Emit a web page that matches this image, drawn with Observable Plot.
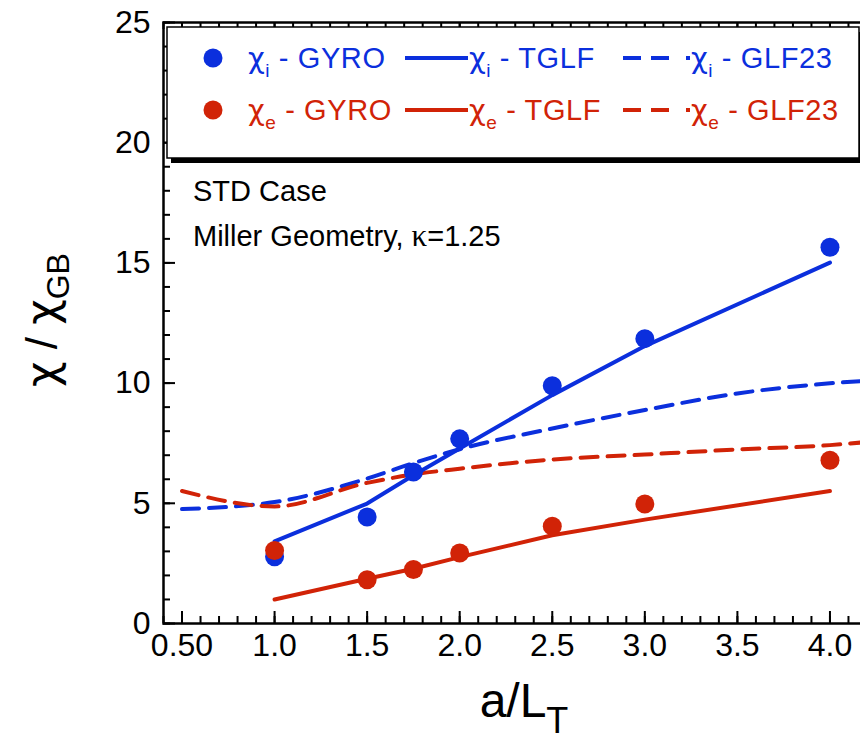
<!DOCTYPE html>
<html><head><meta charset="utf-8">
<script src="https://cdn.jsdelivr.net/npm/d3@7"></script>
<script src="https://cdn.jsdelivr.net/npm/@observablehq/plot@0.6"></script>
<style>
html,body{margin:0;padding:0;background:#fff;overflow:hidden;width:860px;height:742px;}
#chart{position:relative;width:860px;height:742px;overflow:hidden;}
#chart svg{max-width:none;}
</style></head><body><div id="chart"></div>
<script>
// ---- data ----
const gyroX    = [1.0, 1.5, 1.75, 2.0, 2.5, 3.0, 4.0];
const chiIGyro = [2.78, 4.43, 6.30, 7.68, 9.89, 11.85, 15.65];
const chiEGyro = [3.04, 1.82, 2.25, 2.93, 4.05, 4.97, 6.79];
const tglfX    = [1.0, 1.5, 1.75, 2.0, 2.5, 3.0, 4.0];
const chiITglf = [3.42, 4.99, 6.17, 7.28, 9.50, 11.54, 15.01];
const chiETglf = [1.00, 1.86, 2.28, 2.76, 3.67, 4.32, 5.51];
const glfX     = [0.5, 1.0, 1.5, 1.75, 2.0, 2.5, 3.0, 3.5, 4.0, 4.2];
const chiIGlf  = [4.76, 5.05, 6.03, 6.67, 7.25, 8.11, 8.88, 9.57, 9.99, 10.10];
const chiEGlf  = [5.51, 4.87, 5.85, 6.20, 6.44, 6.82, 7.03, 7.24, 7.42, 7.55];
const xMajorTicks = [0.5, 1.0, 1.5, 2.0, 2.5, 3.0, 3.5, 4.0];
const xTickLabels = ["0.50", "1.0", "1.5", "2.0", "2.5", "3.0", "3.5", "4.0"];
const yMajorTicks = [0, 5, 10, 15, 20, 25];
const yTickLabels = ["0", "5", "10", "15", "20", "25"];
const annotations = ["STD Case", "Miller Geometry, "];
const annotationSymbol = "\u03BA";
const annotationValue = "=1.25";
const legendRows = [
  {sub: "i", gyro: " - GYRO", tglf: " - TGLF", glf: " - GLF23"},
  {sub: "e", gyro: " - GYRO", tglf: " - TGLF", glf: " - GLF23"}
];

// ---- layout ----
const W = 900, H = 742, mL = 163, mR = 15, mT = 22, mB = 119;
const iw = W - mL - mR, ih = H - mT - mB;
const blue = "#0b2fdd", red = "#d12307";
const font = "'Liberation Sans', Arial, Helvetica, sans-serif";
const chiFont = "'DejaVu Sans', sans-serif";
const xMinor = d3.range(4, 44).map(i => i / 10);
const yMinor = d3.range(0, 26);
const rows = (xs, ys) => xs.map((x, i) => ({x, y: ys[i]}));

const plot = Plot.plot({
  width: W, height: H,
  marginLeft: mL, marginRight: mR, marginTop: mT, marginBottom: mB,
  x: {domain: [0.4, 4.3]},
  y: {domain: [0, 25]},
  style: {fontFamily: font, background: "white", maxWidth: "none", color: "black"},
  marks: [
    Plot.axisX({ticks: xMajorTicks, tickSize: 0, tickPadding: 10, fontSize: 32, fill: "black",
      tickFormat: d => xTickLabels[xMajorTicks.indexOf(d)], label: null}),
    Plot.axisY({ticks: yMajorTicks, tickSize: 0, tickPadding: 13, fontSize: 32, fill: "black",
      tickFormat: d => yTickLabels[yMajorTicks.indexOf(d)], label: null}),
    // inward ticks on all sides
    Plot.tickX(xMinor, {x: d => d, insetTop: ih - 7, stroke: "black", strokeWidth: 2}),
    Plot.tickX(xMajorTicks, {x: d => d, insetTop: ih - 12, stroke: "black", strokeWidth: 2}),
    Plot.tickX(xMinor, {x: d => d, insetBottom: ih - 7, stroke: "black", strokeWidth: 2}),
    Plot.tickX(xMajorTicks, {x: d => d, insetBottom: ih - 12, stroke: "black", strokeWidth: 2}),
    Plot.tickY(yMinor, {y: d => d, insetRight: iw - 7, stroke: "black", strokeWidth: 2}),
    Plot.tickY(yMajorTicks, {y: d => d, insetRight: iw - 12, stroke: "black", strokeWidth: 2}),
    Plot.tickY(yMinor, {y: d => d, insetLeft: iw - 7, stroke: "black", strokeWidth: 2}),
    Plot.tickY(yMajorTicks, {y: d => d, insetLeft: iw - 12, stroke: "black", strokeWidth: 2}),
    Plot.frame({stroke: "black", strokeWidth: 2.5}),
    // GLF23 dashed
    Plot.line(rows(glfX, chiIGlf), {x: "x", y: "y", stroke: blue, strokeWidth: 4, strokeDasharray: "17,10", curve: "monotone-x"}),
    Plot.line(rows(glfX, chiEGlf), {x: "x", y: "y", stroke: red, strokeWidth: 4, strokeDasharray: "17,10", curve: "monotone-x"}),
    // TGLF solid
    Plot.line(rows(tglfX, chiITglf), {x: "x", y: "y", stroke: blue, strokeWidth: 4}),
    Plot.line(rows(tglfX, chiETglf), {x: "x", y: "y", stroke: red, strokeWidth: 4}),
    // GYRO dots
    Plot.dot(rows(gyroX, chiIGyro), {x: "x", y: "y", r: 9.5, fill: blue}),
    Plot.dot(rows(gyroX, chiEGyro), {x: "x", y: "y", r: 9.5, fill: red})
  ]
});
document.getElementById("chart").appendChild(plot);

const svg = d3.select(plot);

// ---- annotations ----
svg.append("text").attr("x", 193).attr("y", 201).attr("text-anchor", "start")
  .attr("font-size", 29).attr("font-family", font).attr("fill", "black").text(annotations[0]);
const an = svg.append("text").attr("x", 193).attr("y", 246).attr("text-anchor", "start")
  .attr("font-size", 29).attr("font-family", font).attr("fill", "black");
an.append("tspan").text(annotations[1]);
an.append("tspan").attr("font-family", "'Liberation Serif', serif").attr("font-size", 31).text(annotationSymbol);
an.append("tspan").text(annotationValue);

// ---- legend box ----
const lg = svg.append("g");
lg.append("rect").attr("x", 171).attr("y", 32).attr("width", 694).attr("height", 131).attr("fill", "black");
lg.append("rect").attr("x", 167).attr("y", 27).attr("width", 692).attr("height", 131)
  .attr("fill", "white").attr("stroke", "black").attr("stroke-width", 1.5);
const colors = [blue, red];
const rowY = [58, 110];
legendRows.forEach((r, k) => {
  const c = colors[k], y = rowY[k];
  lg.append("circle").attr("cx", 213).attr("cy", y).attr("r", 9.5).attr("fill", c);
  lg.append("line").attr("x1", 405).attr("x2", 468).attr("y1", y).attr("y2", y)
    .attr("stroke", c).attr("stroke-width", 4);
  lg.append("line").attr("x1", 623).attr("x2", 690).attr("y1", y).attr("y2", y)
    .attr("stroke", c).attr("stroke-width", 4).attr("stroke-dasharray", "18,10,18,17,4");
  [[248, r.gyro], [469, r.tglf], [691, r.glf]].forEach(([x, label]) => {
    const t = lg.append("text").attr("x", x).attr("y", y + 10).attr("fill", c)
      .attr("text-anchor", "start").attr("font-size", 29).attr("letter-spacing", 0.6).attr("font-family", font);
    t.append("tspan").attr("font-family", chiFont).text("\u03C7");
    t.append("tspan").attr("dy", 9).attr("font-size", 19).text(r.sub);
    t.append("tspan").attr("dy", -9).text(label);
  });
});

// ---- axis titles ----
const xt = svg.append("text").attr("x", 524).attr("y", 717).attr("text-anchor", "middle")
  .attr("font-size", 48).attr("font-family", font).attr("fill", "black");
xt.append("tspan").text("a/L");
xt.append("tspan").attr("dy", 16).attr("font-size", 36).text("T");

const yt = svg.append("text").attr("transform", "translate(57,320) rotate(-90)").attr("text-anchor", "middle")
  .attr("font-size", 44).attr("font-family", font).attr("fill", "black");
yt.append("tspan").attr("font-family", chiFont).text("\u03C7");
yt.append("tspan").text(" / ");
yt.append("tspan").attr("font-family", chiFont).text("\u03C7");
yt.append("tspan").attr("dy", 12).attr("font-size", 32).text("GB");
</script></body></html>
